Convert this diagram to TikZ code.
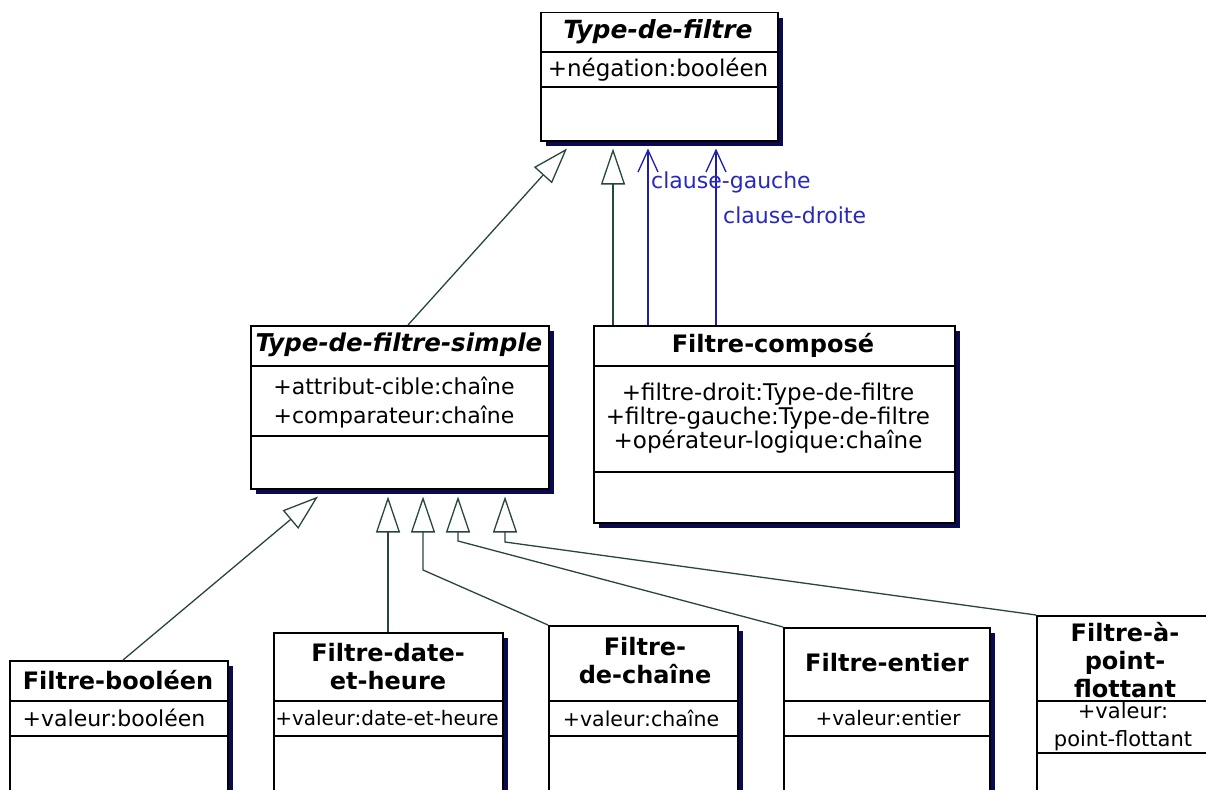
\documentclass[tikz,border=0pt]{standalone}
\usepackage{fontspec}
\setmainfont{DejaVu Sans}
\usetikzlibrary{arrows.meta,shadows}
\definecolor{navyc}{RGB}{10,10,80}
\definecolor{genc}{RGB}{40,70,65}
\definecolor{assocc}{RGB}{30,30,170}
\definecolor{rolec}{RGB}{40,40,190}

\begin{document}
\begin{tikzpicture}[x=1pt,y=-1pt,
  cls/.style={rectangle, draw=black, line width=1.5pt, fill=white, inner sep=0pt, anchor=north west,
    drop shadow={shadow xshift=5pt, shadow yshift=-5pt, fill=navyc, opacity=1}},
  sepline/.style={draw=black, line width=1.5pt},
  ttl/.style={font=\fontsize{24}{28}\selectfont\bfseries, align=center, inner sep=0pt},
  abstl/.style={font=\fontsize{25}{28}\selectfont\bfseries\itshape, inner sep=0pt},
  attr/.style={font=\fontsize{22}{24}\selectfont, align=center, inner sep=0pt},
  role/.style={font=\fontsize{22}{24}\selectfont, text=rolec, anchor=west, inner sep=0pt},
  gen/.style={draw=genc, line width=1.3pt, -{Triangle[open, length=36pt, width=24pt]}},
  assoc/.style={draw=assocc, line width=1.3pt, -{Straight Barb[length=22pt, width=20pt]}},
]
\useasboundingbox (0,0) rectangle (1206,789);
\fill[white] (0,0) rectangle (1206,789);
\clip (0,0) rectangle (1206,789);

% ---- abstract root class
\node[cls, minimum width=237pt, minimum height=128pt] (tdf) at (540,12) {};
\draw[sepline] (tdf.west |- 0,52) -- (tdf.east |- 0,52);
\draw[sepline] (tdf.west |- 0,87) -- (tdf.east |- 0,87);
\node[abstl] (tdf-t) at (658,32) {Type-de-filtre};
\node[attr, font=\fontsize{23}{24}\selectfont] (tdf-a) at (658,70) {+négation:booléen};

% ---- abstract simple filter
\node[cls, minimum width=298pt, minimum height=163pt] (tfs) at (250,325) {};
\draw[sepline] (tfs.west |- 0,366) -- (tfs.east |- 0,366);
\draw[sepline] (tfs.west |- 0,436) -- (tfs.east |- 0,436);
\node[abstl, font=\fontsize{24.5}{28}\selectfont\bfseries\itshape] (tfs-t) at (399,345) {Type-de-filtre-simple};
\node[attr, font=\fontsize{22}{29}\selectfont] (tfs-a) at (394,402)
  {+attribut-cible:chaîne\\+comparateur:chaîne};

% ---- composite filter
\node[cls, minimum width=361pt, minimum height=197pt] (fc) at (593,325) {};
\draw[sepline] (fc.west |- 0,366) -- (fc.east |- 0,366);
\draw[sepline] (fc.west |- 0,472) -- (fc.east |- 0,472);
\node[ttl] (fc-t) at (773,345) {Filtre-composé};
\node[attr, font=\fontsize{23}{24}\selectfont] (fc-a) at (768,418)
  {+filtre-droit:Type-de-filtre\\+filtre-gauche:Type-de-filtre\\+opérateur-logique:chaîne};

% ---- concrete filters
\node[cls, minimum width=218pt, minimum height=150pt] (fb) at (9,660) {};
\draw[sepline] (fb.west |- 0,701) -- (fb.east |- 0,701);
\draw[sepline] (fb.west |- 0,736) -- (fb.east |- 0,736);
\node[ttl] (fb-t) at (118,680) {Filtre-booléen};
\node[attr] (fb-a) at (114,718) {+valeur:booléen};

\node[cls, minimum width=229pt, minimum height=180pt] (fdh) at (273,632) {};
\draw[sepline] (fdh.west |- 0,701) -- (fdh.east |- 0,701);
\draw[sepline] (fdh.west |- 0,736) -- (fdh.east |- 0,736);
\node[ttl] (fdh-t) at (388,667) {Filtre-date-\\et-heure};
\node[attr, font=\fontsize{20}{24}\selectfont] (fdh-a) at (387,718) {+valeur:date-et-heure};

\node[cls, minimum width=189pt, minimum height=180pt] (fch) at (548,625) {};
\draw[sepline] (fch.west |- 0,701) -- (fch.east |- 0,701);
\draw[sepline] (fch.west |- 0,736) -- (fch.east |- 0,736);
\node[ttl] (fch-t) at (645,661) {Filtre-\\de-chaîne};
\node[attr, font=\fontsize{20.5}{24}\selectfont] (fch-a) at (641,718) {+valeur:chaîne};

\node[cls, minimum width=206pt, minimum height=180pt] (fe) at (783,627) {};
\draw[sepline] (fe.west |- 0,701) -- (fe.east |- 0,701);
\draw[sepline] (fe.west |- 0,736) -- (fe.east |- 0,736);
\node[ttl] (fe-t) at (887,663) {Filtre-entier};
\node[attr, font=\fontsize{20}{24}\selectfont] (fe-a) at (888,718) {+valeur:entier};

\node[cls, minimum width=176pt, minimum height=190pt] (fpf) at (1036,615) {};
\draw[sepline] (fpf.west |- 0,701) -- (fpf.east |- 0,701);
\draw[sepline] (fpf.west |- 0,753) -- (fpf.east |- 0,753);
\node[ttl] (fpf-t) at (1125,660) {Filtre-à-\\point-\\flottant};
\node[attr, font=\fontsize{21}{28}\selectfont] (fpf-a) at (1123,727) {+valeur:\\point-flottant};

% ---- generalisations to the root
\draw[gen] ([xshift=158pt]tfs.north west) -- ([xshift=27pt,yshift=-7pt]tdf.south west);
\draw[gen] ([xshift=20pt]fc.north west) -- ([xshift=73pt,yshift=-7pt]tdf.south west);

% ---- associations (roles)
\draw[assoc] ([xshift=55pt]fc.north west) -- ([xshift=108pt,yshift=-7pt]tdf.south west);
\draw[assoc] ([xshift=123pt]fc.north west) -- ([xshift=176pt,yshift=-7pt]tdf.south west);
\node[role] (cg) at (651,182) {clause-gauche};
\node[role] (cd) at (723,215) {clause-droite};

% ---- generalisations to the simple filter
\coordinate (bch) at (423,570);
\coordinate (bfe) at (458,541);
\coordinate (bfp) at (505,542);
\draw[gen] ([xshift=114pt]fb.north west) -- ([xshift=68pt,yshift=-7pt]tfs.south west);
\draw[gen] ([xshift=115pt]fdh.north west) -- ([xshift=138pt,yshift=-7pt]tfs.south west);
\draw[gen] (fch.north west) -- (bch) -- ([xshift=173pt,yshift=-7pt]tfs.south west);
\draw[gen] (fe.north west) -- (bfe) -- ([xshift=208pt,yshift=-7pt]tfs.south west);
\draw[gen] (fpf.north west) -- (bfp) -- ([xshift=255pt,yshift=-7pt]tfs.south west);
\end{tikzpicture}
\end{document}
